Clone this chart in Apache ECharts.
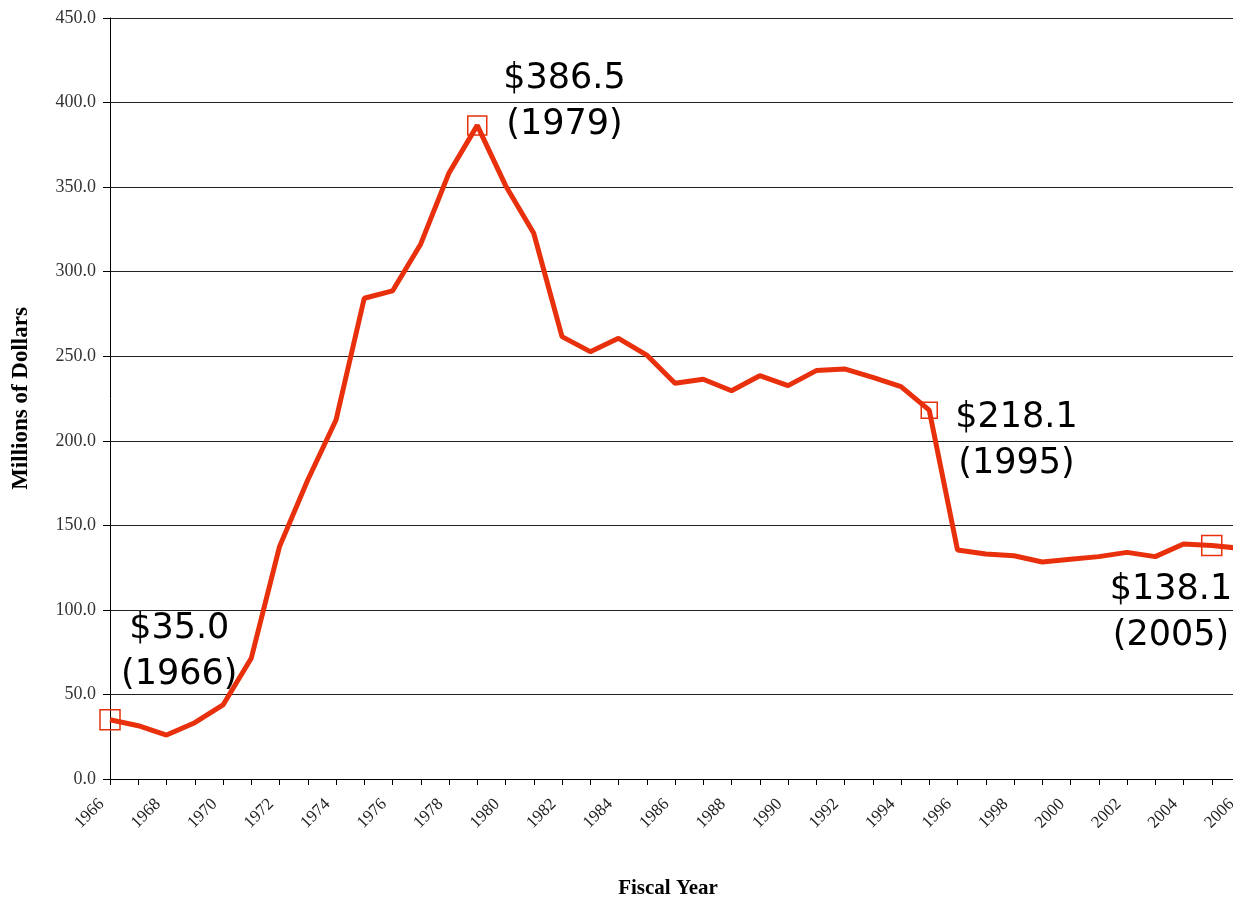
<!DOCTYPE html>
<html>
<head>
<meta charset="utf-8">
<script src="https://cdn.jsdelivr.net/npm/echarts@6/dist/echarts.min.js"></script>
<style>
  html, body { margin: 0; padding: 0; background: #fff; }
  #chart { width: 1233px; height: 897px; }
</style>
</head>
<body>
<div id="chart"></div>
<script>
// fiscal years 1966 - 2006
const years = ['1966','1967','1968','1969','1970','1971','1972','1973','1974','1975',
  '1976','1977','1978','1979','1980','1981','1982','1983','1984','1985',
  '1986','1987','1988','1989','1990','1991','1992','1993','1994','1995',
  '1996','1997','1998','1999','2000','2001','2002','2003','2004','2005','2006'];

// millions of dollars
const spending = [35.0, 31.5, 26.0, 33.3, 43.8, 71.4, 137.4, 176.8, 212.3, 284.3,
  288.6, 316.4, 358.4, 386.5, 351.0, 322.7, 261.6, 252.7, 260.6, 250.7,
  234.0, 236.4, 229.6, 238.5, 232.6, 241.5, 242.5, 237.5, 232.0, 218.1,
  135.4, 133.0, 132.0, 128.3, 129.9, 131.5, 134.0, 131.5, 139.0, 138.1, 136.4];

// highlighted points: year, label text
const callouts = [
  { year: '1966', text: '$35.0\n(1966)' },
  { year: '1979', text: '$386.5\n(1979)' },
  { year: '1995', text: '$218.1\n(1995)' },
  { year: '2005', text: '$138.1\n(2005)' }
];

const yTicks = [0, 50, 100, 150, 200, 250, 300, 350, 400, 450];

// label placement for each callout (centre of text block relative to the point, marker size)
const calloutStyle = {
  '1966': { offset: [70, -67], size: 20 },
  '1979': { offset: [88, -23], size: 19 },
  '1995': { offset: [88, 31], size: 16 },
  '2005': { offset: [-40, 68], size: 20 }
};

const seriesData = spending.map((v, i) => {
  const c = callouts.find(c => c.year === years[i]);
  if (!c) return v;
  const s = calloutStyle[c.year];
  return {
    value: v,
    symbol: 'rect',
    symbolSize: s.size,
    itemStyle: { color: 'rgba(255,255,255,0)', borderColor: '#e8300c', borderWidth: 1.5 },
    label: {
      show: true,
      position: [s.size / 2 + s.offset[0], s.size / 2 + s.offset[1]],
      formatter: c.text,
      align: 'center',
      verticalAlign: 'middle',
      fontFamily: 'DejaVu Sans',
      fontSize: 35,
      lineHeight: 46,
      color: '#000'
    }
  };
});

const myChart = echarts.init(document.getElementById('chart'));
const option = {
  animation: false,
  backgroundColor: '#fff',
  // the plot runs a few pixels past the right edge, as in the original crop
  grid: { left: 110, right: -7, top: 18, bottom: 118, outerBoundsMode: 'none' },
  xAxis: {
    type: 'category',
    data: years,
    boundaryGap: false,
    name: 'Fiscal Year',
    nameLocation: 'middle',
    nameGap: 99,
    nameTextStyle: { fontFamily: 'Liberation Serif', fontWeight: 'bold', fontSize: 21, color: '#000', padding: [0, 14, 0, 0] },
    axisLine: { lineStyle: { color: '#000', width: 1 } },
    axisTick: { show: true, interval: 0, length: 6, lineStyle: { color: '#000' } },
    axisLabel: {
      interval: 1,
      rotate: 45,
      margin: 14,
      padding: [0, 12, 0, 0],
      fontFamily: 'Liberation Serif',
      fontSize: 17,
      color: '#222'
    },
    splitLine: { show: false }
  },
  yAxis: {
    type: 'value',
    min: yTicks[0],
    max: yTicks[yTicks.length - 1],
    interval: 50,
    name: 'Millions of Dollars',
    nameLocation: 'middle',
    nameGap: 77,
    nameTextStyle: { fontFamily: 'Liberation Serif', fontWeight: 'bold', fontSize: 23, color: '#000' },
    axisLine: { show: true, lineStyle: { color: '#000', width: 1 } },
    axisTick: { show: true, length: 7, lineStyle: { color: '#000' } },
    axisLabel: {
      margin: 14,
      formatter: v => v.toFixed(1),
      fontFamily: 'Liberation Serif',
      fontSize: 18,
      color: '#333'
    },
    splitLine: { show: true, lineStyle: { color: '#222', width: 1 } }
  },
  series: [
    {
      type: 'line',
      data: seriesData,
      symbol: 'none',
      showAllSymbol: true,
      labelLayout: { hideOverlap: false },
      lineStyle: { color: '#e8300c', width: 5 },
      itemStyle: { color: '#e8300c' },
      z: 3
    }
  ]
};
myChart.setOption(option);
</script>
</body>
</html>
